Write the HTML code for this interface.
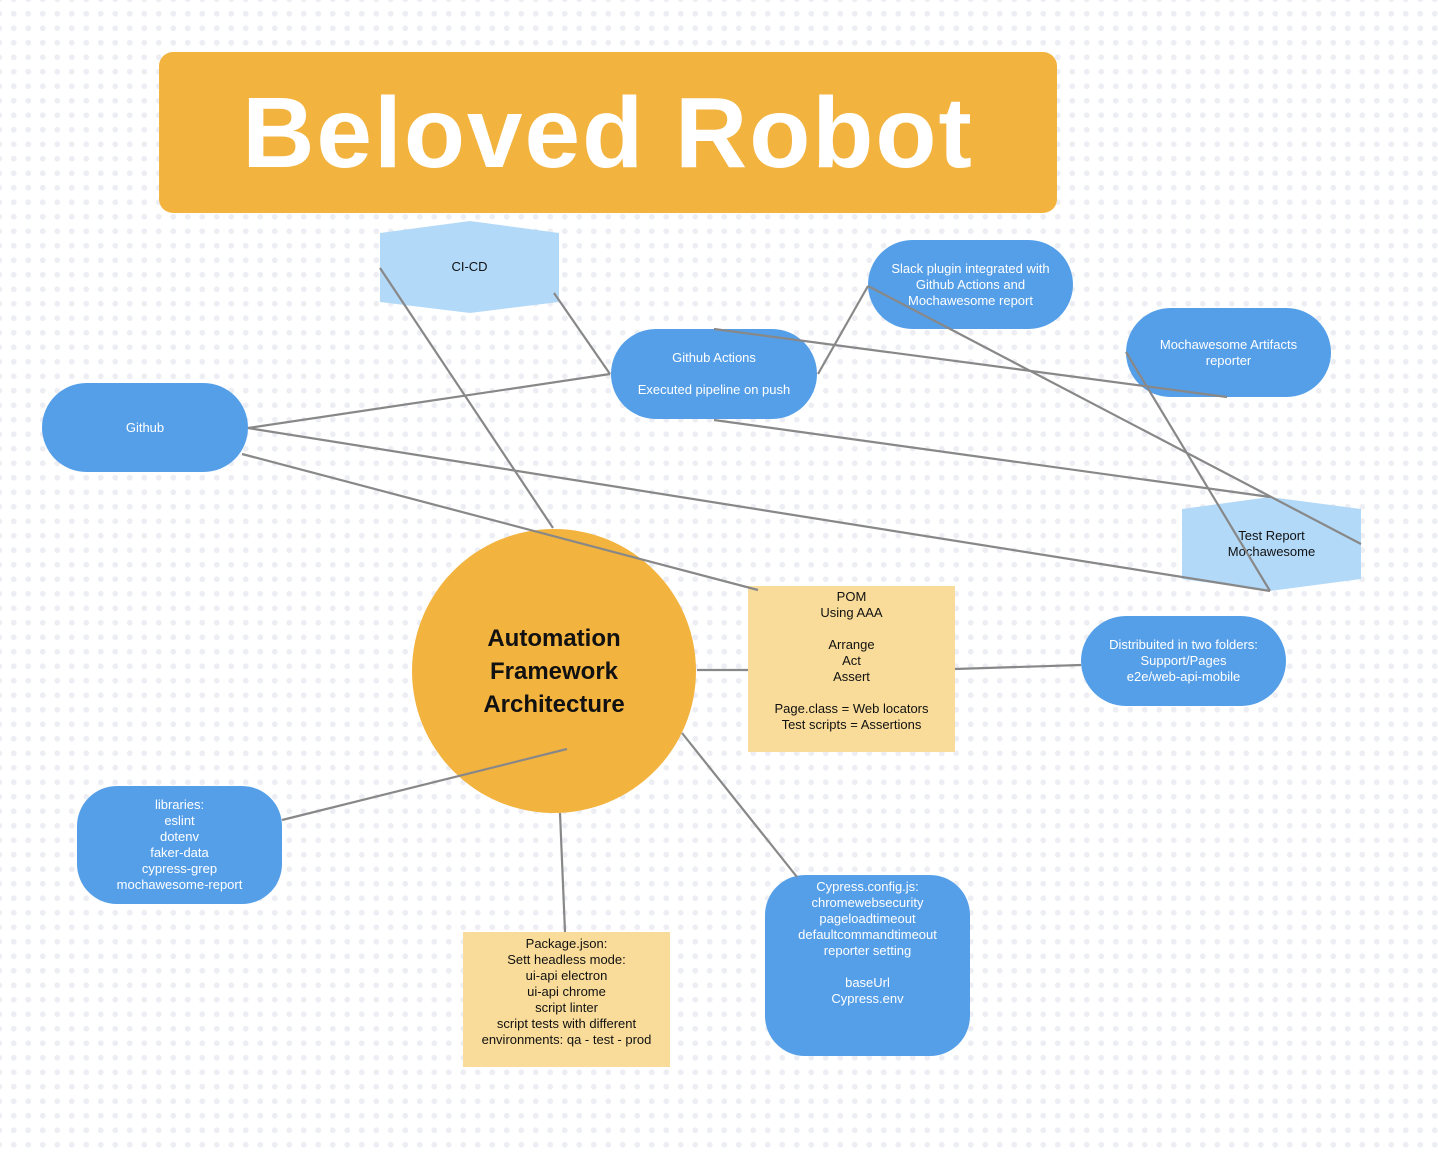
<!DOCTYPE html>
<html><head><meta charset="utf-8"><style>
body{margin:0;width:1438px;height:1156px;overflow:hidden;font-family:"Liberation Sans",sans-serif;
background-color:#fff;background-image:radial-gradient(circle,#eceef3 2.6px,transparent 3.1px);background-size:14.5px 14.5px;background-position:6.5px 6.5px;position:relative}
.n{position:absolute;display:flex;align-items:center;justify-content:center;text-align:center;font-size:13px;line-height:16px;box-sizing:border-box}
.b{background:#559fe9;color:#fff}
.y{background:#f9dc9a;color:#111}
svg{position:absolute;left:0;top:0}
</style></head><body>
<div class="n" style="left:159px;top:52px;width:898px;height:161px;background:#f3b33f;border-radius:14px;color:#fff;font-weight:bold;font-size:100px;letter-spacing:2px">Beloved Robot</div>
<svg width="1438" height="1156">
<polygon points="380,233 470,221 559,233 559,302 470,313 380,302" fill="#b3d9f9"/>
<polygon points="1182,509 1270,497 1361,509 1361,579 1270,591 1182,579" fill="#b3d9f9"/>
<circle cx="554" cy="671" r="142" fill="#f3b33f"/>
</svg>
<div class="n" style="left:380px;top:221px;width:179px;height:92px;color:#111">CI-CD</div>
<div class="n" style="left:1182px;top:497px;width:179px;height:94px;color:#111">Test Report<br>Mochawesome</div>
<div class="n" style="left:412px;top:529px;width:284px;height:284px;font-weight:bold;font-size:24px;line-height:33px;color:#111">Automation<br>Framework<br>Architecture</div>
<div class="n b" style="left:42px;top:383px;width:206px;height:89px;border-radius:45px">Github</div>
<div class="n b" style="left:611px;top:329px;width:206px;height:90px;border-radius:45px">Github Actions<br><br>Executed pipeline on push</div>
<div class="n b" style="left:868px;top:240px;width:205px;height:89px;border-radius:45px">Slack plugin integrated with<br>Github Actions and<br>Mochawesome report</div>
<div class="n b" style="left:1126px;top:308px;width:205px;height:89px;border-radius:45px">Mochawesome Artifacts<br>reporter</div>
<div class="n b" style="left:1081px;top:616px;width:205px;height:90px;border-radius:45px">Distribuited in two folders:<br>Support/Pages<br>e2e/web-api-mobile</div>
<div class="n b" style="left:77px;top:786px;width:205px;height:118px;border-radius:40px">libraries:<br>eslint<br>dotenv<br>faker-data<br>cypress-grep<br>mochawesome-report</div>
<div class="n b" style="left:765px;top:875px;width:205px;height:181px;border-radius:40px;align-items:flex-start;padding-top:4px">Cypress.config.js:<br>chromewebsecurity<br>pageloadtimeout<br>defaultcommandtimeout<br>reporter setting<br><br>baseUrl<br>Cypress.env</div>
<div class="n y" style="left:748px;top:586px;width:207px;height:166px;align-items:flex-start;padding-top:3px">POM<br>Using AAA<br><br>Arrange<br>Act<br>Assert<br><br>Page.class = Web locators<br>Test scripts = Assertions</div>
<div class="n y" style="left:463px;top:932px;width:207px;height:135px;align-items:flex-start;padding-top:4px">Package.json:<br>Sett headless mode:<br>ui-api electron<br>ui-api chrome<br>script linter<br>script tests with different<br>environments: qa - test - prod</div>
<svg width="1438" height="1156" stroke="#888" stroke-width="2.2" fill="none">
<line x1="380" y1="268" x2="553" y2="528"/>
<line x1="554" y1="293" x2="610" y2="374"/>
<line x1="248" y1="428" x2="610" y2="374"/>
<line x1="248" y1="428" x2="1270" y2="591"/>
<line x1="242" y1="454" x2="758" y2="590"/>
<line x1="714" y1="329" x2="1227" y2="397"/>
<line x1="714" y1="420" x2="1270" y2="497"/>
<line x1="818" y1="374" x2="868" y2="286"/>
<line x1="868" y1="286" x2="1361" y2="544"/>
<line x1="1126" y1="352" x2="1270" y2="591"/>
<line x1="697" y1="670" x2="748" y2="670"/>
<line x1="955" y1="669" x2="1081" y2="665"/>
<line x1="282" y1="820" x2="567" y2="749"/>
<line x1="560" y1="813" x2="565" y2="932"/>
<line x1="682" y1="733" x2="797" y2="877"/>
</svg>
</body></html>
